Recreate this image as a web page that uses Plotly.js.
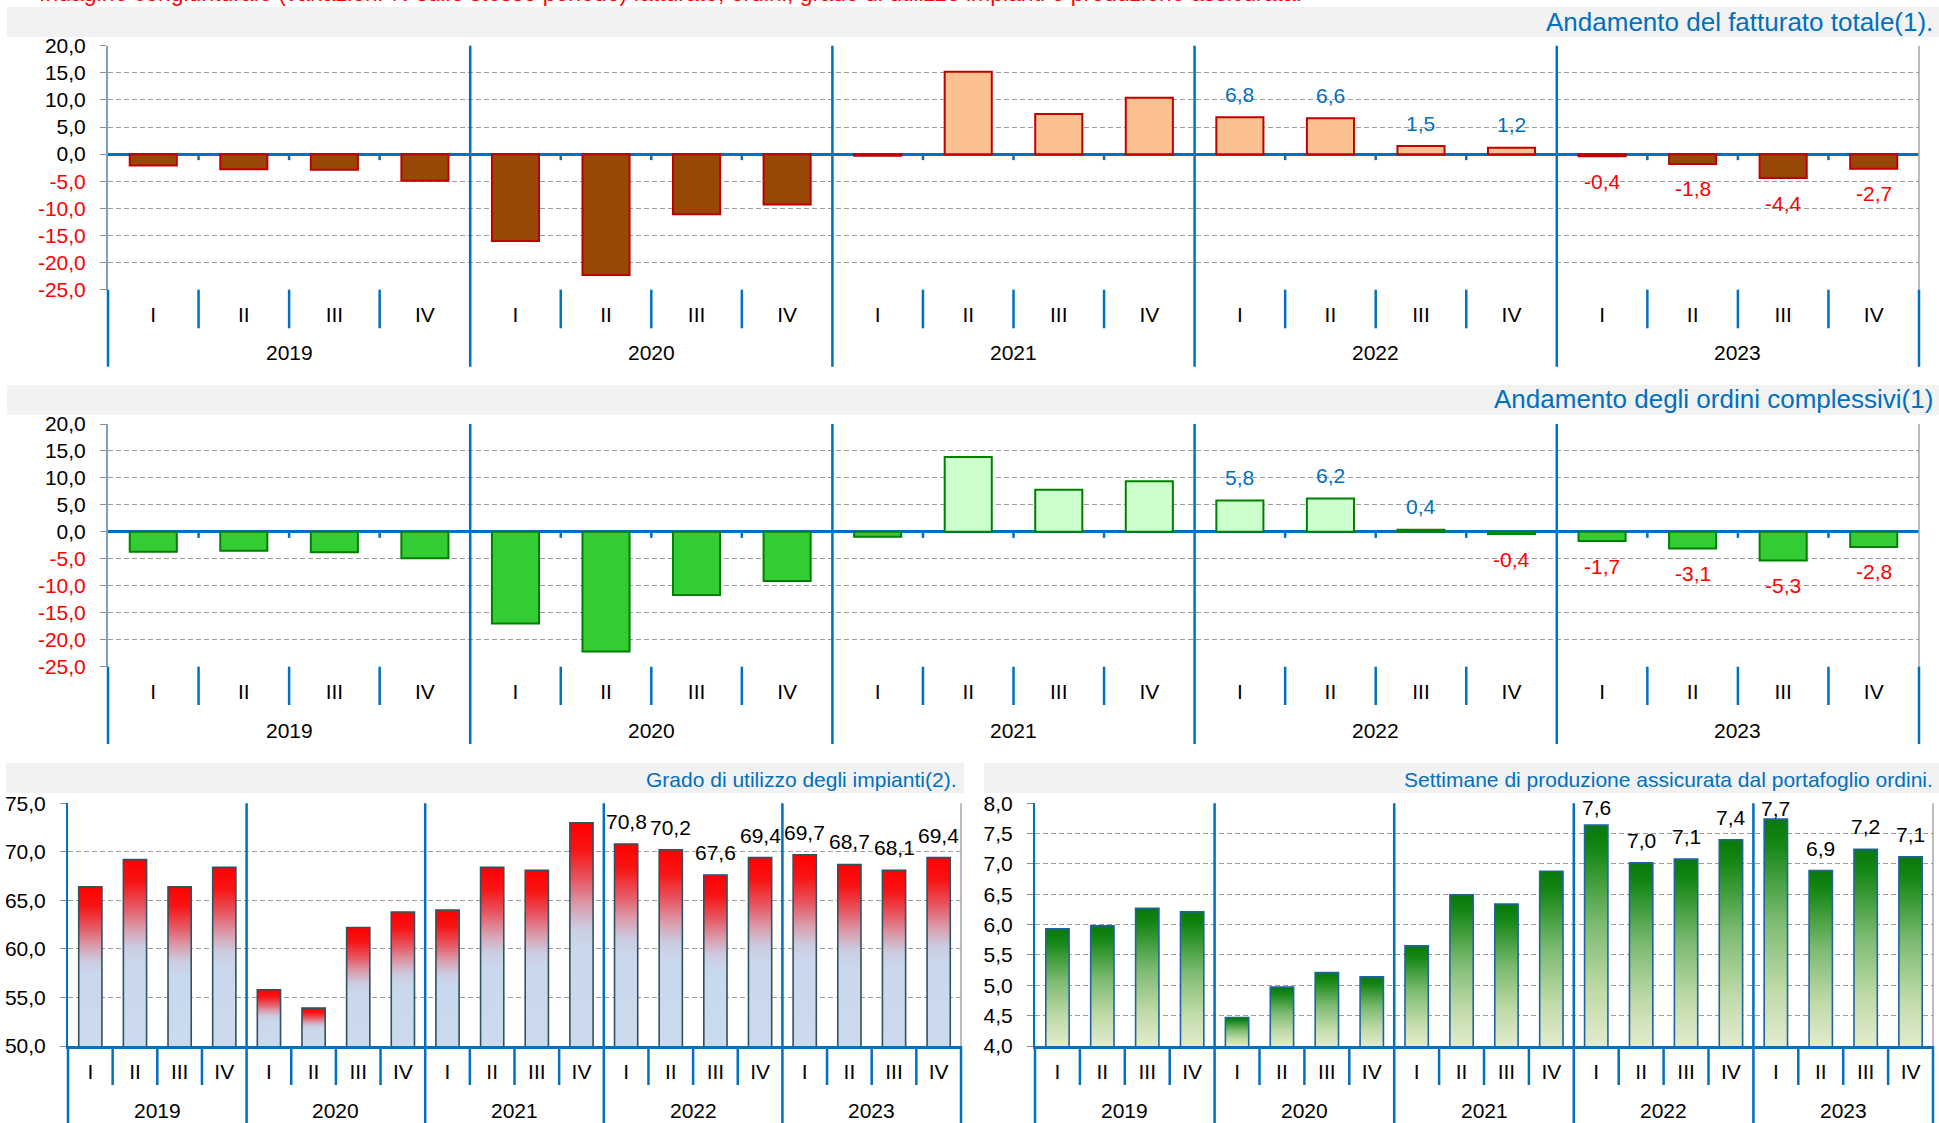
<!DOCTYPE html>
<html><head><meta charset="utf-8">
<script src="https://cdn.plot.ly/plotly-3.0.1.min.js"></script>
<style>html,body{margin:0;padding:0;background:#fff;} #chart{width:1939px;height:1123px;}</style>
</head><body><div id="chart"></div>
<script>
// ---------- DATA ----------
const years = ['2019', '2020', '2021', '2022', '2023'];
const quarters = ['I', 'II', 'III', 'IV'];
const labelYears = ['2022', '2023'];

const fatturato = [-2.1, -2.8, -2.9, -4.9, -16.0, -22.3, -11.1, -9.3, -0.3, 15.2, 7.4, 10.4, 6.8, 6.6, 1.5, 1.2, -0.4, -1.8, -4.4, -2.7];
const ordini = [-3.7, -3.5, -3.8, -4.9, -17.0, -22.2, -11.7, -9.1, -0.9, 13.9, 7.8, 9.4, 5.8, 6.2, 0.4, -0.4, -1.7, -3.1, -5.3, -2.8];
const utilizzo = [66.4, 69.2, 66.4, 68.4, 55.8, 53.9, 62.2, 63.8, 64.0, 68.4, 68.1, 73.0, 70.8, 70.2, 67.6, 69.4, 69.7, 68.7, 68.1, 69.4];
const settimane = [5.93, 5.98, 6.27, 6.21, 4.47, 4.97, 5.21, 5.14, 5.65, 6.49, 6.34, 6.88, 7.64, 7.02, 7.08, 7.40, 7.74, 6.89, 7.24, 7.12];

const ticksVar = [20, 15, 10, 5, 0, -5, -10, -15, -20, -25];
const ticksUtil = [75, 70, 65, 60, 55, 50];
const ticksSett = [8.0, 7.5, 7.0, 6.5, 6.0, 5.5, 5.0, 4.5, 4.0];

const titleTop = 'Indagine congiunturale (variazioni % sullo stesso periodo) fatturato, ordini, grado di utilizzo impianti e produzione assicurata.';
const title1 = 'Andamento del fatturato totale(1).';
const title2 = 'Andamento degli ordini complessivi(1)';
const title3 = 'Grado di utilizzo degli impianti(2).';
const title4 = 'Settimane di produzione assicurata dal portafoglio ordini.';

// ---------- HELPERS ----------
const W = 1939, H = 1123;
const px = v => v / W;
const py = v => 1 - v / H;
const fmt = v => v.toFixed(1).replace('.', ',');
const cats = years.flatMap(y => quarters.map(q => y + ' ' + q));
const catQ = years.flatMap(() => quarters.slice());
const catYear = years.flatMap(y => quarters.map(() => y));
const BLUE = '#0070C0';
const FONT = 'Liberation Sans, Arial, sans-serif';

const panels = [
  { s: '', vals: fatturato, ticks: ticksVar, range: [-25, 20], kind: 'var',
    posFill: '#FAC090', negFill: '#974806', line: '#C00000', lw: 2,
    xd: [108, 1919], yd: [45.7, 289.7], band: [7, 1939, 7, 37],
    title: title1, titleX: 1935, titleY: 22, titleSize: 26, qStand: 10,
    yearY: 353, qDivBottom: 328.3, yearDivBottom: 366.7 },
  { s: '2', vals: ordini, ticks: ticksVar, range: [-25, 20], kind: 'var',
    posFill: '#CCFFCC', negFill: '#33CC33', line: '#008000', lw: 2,
    xd: [108, 1919], yd: [424, 666.7], band: [7, 1939, 385, 415],
    title: title2, titleX: 1935, titleY: 399, titleSize: 26, qStand: 10,
    yearY: 730.7, qDivBottom: 705, yearDivBottom: 744 },
  { s: '3', vals: utilizzo, ticks: ticksUtil, range: [50, 75], kind: 'lvl',
    fill: '#C9D9EC', line: '#2F5264', lw: 1.6,
    xd: [68, 961], yd: [803.3, 1046], band: [6, 964, 763, 793],
    title: title3, titleX: 958, titleY: 779, titleSize: 21, qStand: 5,
    yearY: 1110, qDivBottom: 1085, yearDivBottom: 1123 },
  { s: '4', vals: settimane, ticks: ticksSett, range: [4, 8], kind: 'lvl',
    fill: '#7CBB72', line: '#1F64A0', lw: 1.6,
    xd: [1035, 1933], yd: [803.3, 1046], band: [984, 1939, 763, 793],
    title: title4, titleX: 1935, titleY: 779, titleSize: 21, qStand: 5,
    yearY: 1110, qDivBottom: 1085, yearDivBottom: 1123 }
];

const gradients = {
  2: [[0, '#FF0000'], [0.12, '#F71414'], [0.26, '#E65A66'], [0.37, '#DA9CAC'], [0.47, '#CCCCE0'], [0.56, '#C9D8EC'], [1, '#CBDAEC']],
  3: [[0, '#0A780A'], [0.1, '#128512'], [0.45, '#7DBB72'], [0.75, '#BFDAA7'], [1, '#E3EBCF']]
};

const data = [];
const layout = {
  width: W, height: H, margin: { l: 0, r: 0, t: 0, b: 0 },
  paper_bgcolor: '#FFFFFF', plot_bgcolor: '#FFFFFF',
  showlegend: false, hovermode: false, bargap: 0.48,
  font: { family: FONT, size: 21, color: '#000000' },
  shapes: [], annotations: []
};

// top (cropped in the original) red heading
layout.annotations.push({
  xref: 'paper', yref: 'paper', x: px(37), y: py(-7), xanchor: 'left', yanchor: 'middle',
  text: titleTop, showarrow: false, font: { size: 23, color: '#FF0000', family: FONT }
});

panels.forEach((p, idx) => {
  const xa = 'x' + p.s, ya = 'y' + p.s;
  const n = cats.length;
  const [r0, r1] = p.range;
  const plotTop = p.yd[0], plotBot = p.yd[1], plotH = plotBot - plotTop;
  const ppu = plotH / (r1 - r0);

  // bars
  const trace = {
    type: 'bar', x: cats, y: p.vals, xaxis: xa, yaxis: ya,
    marker: { line: { color: p.line, width: p.lw } }
  };
  if (p.kind === 'var') trace.marker.color = p.vals.map(v => v >= 0 ? p.posFill : p.negFill);
  else trace.marker.color = p.fill;
  data.push(trace);

  // axes
  layout['xaxis' + p.s] = {
    domain: [px(p.xd[0]), px(p.xd[1])], anchor: ya, type: 'category',
    range: [-0.5, n - 0.5], tickmode: 'array', tickvals: cats, ticktext: catQ,
    tickfont: { size: 21, color: '#000000', family: FONT },
    ticks: '', showgrid: false, zeroline: false,
    showline: p.kind === 'lvl', linecolor: BLUE, linewidth: 3,
    ticklabelstandoff: p.qStand, fixedrange: true
  };
  layout['yaxis' + p.s] = {
    domain: [py(p.yd[1]), py(p.yd[0])], anchor: xa, range: p.range,
    tickmode: 'array', tickvals: p.ticks,
    ticktext: p.ticks.map(v => v < 0 ? '<span style="color:#FF0000">' + fmt(v) + '</span>' : fmt(v)),
    tickfont: { size: 21, color: '#000000', family: FONT },
    ticks: 'outside', ticklen: 6, tickcolor: '#8C8C8C', tickwidth: 1,
    ticklabelstandoff: 10,
    showline: true, linecolor: p.kind === 'var' ? '#7C9CC4' : BLUE, linewidth: 2,
    showgrid: true, gridcolor: '#9C9C9C', gridwidth: 1, griddash: '5px,3px',
    zeroline: p.kind === 'var', zerolinecolor: BLUE, zerolinewidth: 3,
    fixedrange: true
  };

  // header band + title
  layout.shapes.push({
    type: 'rect', xref: 'paper', yref: 'paper', layer: 'below',
    x0: px(p.band[0]), x1: px(p.band[1]), y0: py(p.band[3]), y1: py(p.band[2]),
    fillcolor: '#F2F2F2', line: { width: 0 }
  });
  layout.annotations.push({
    xref: 'paper', yref: 'paper', x: px(p.titleX), y: py(p.titleY), xanchor: 'right', yanchor: 'middle',
    text: p.title, showarrow: false, font: { size: p.titleSize, color: BLUE, family: FONT }
  });

  // dividers
  const xdRef = xa + ' domain';
  const zeroPx = plotTop + (r1 - 0) * ppu;
  for (let j = 0; j <= n; j++) {
    const f = j / n;
    const line = (y0, y1, color, w) => layout.shapes.push({
      type: 'line', xref: xdRef, yref: 'paper', layer: 'above',
      x0: f, x1: f, y0: py(y0), y1: py(y1), line: { color: color, width: w }
    });
    if (j % quarters.length === 0) {
      if (j === 0) {
        line(plotBot, p.yearDivBottom, BLUE, 2.5);
      } else if (j === n) {
        line(plotTop, plotBot, '#A6A6A6', 1.5);
        line(plotBot, p.yearDivBottom, BLUE, 2.5);
      } else {
        line(plotTop, p.yearDivBottom, BLUE, 2.5);
      }
    } else {
      line(plotBot, p.qDivBottom, BLUE, 2.5);
      if (p.kind === 'var') line(zeroPx, zeroPx + 6, BLUE, 2.5);
    }
  }

  // year labels
  years.forEach((y, k) => {
    layout.annotations.push({
      xref: xdRef, yref: 'paper', x: (k * quarters.length + quarters.length / 2) / n, y: py(p.yearY),
      xanchor: 'center', yanchor: 'middle', text: y, showarrow: false,
      font: { size: 21, color: '#000000', family: FONT }
    });
  });

  // data labels
  p.vals.forEach((v, i) => {
    if (!labelYears.includes(catYear[i])) return;
    let shift, color;
    if (p.kind === 'var') {
      shift = v >= 0 ? 23 : -25;
      color = v >= 0 ? BLUE : '#FF0000';
    } else {
      const barTopPx = plotTop + (r1 - v) * ppu;
      shift = Math.min(22.5, barTopPx - (plotTop + 4.7));
      color = '#000000';
    }
    layout.annotations.push({
      xref: xa, yref: ya, x: cats[i], y: v, yshift: shift,
      xanchor: 'center', yanchor: 'middle', text: fmt(v), showarrow: false,
      font: { size: 21, color: color, family: FONT }
    });
  });
});

Plotly.newPlot('chart', data, layout, { staticPlot: true, displayModeBar: false }).then(gd => {
  const NS = 'http://www.w3.org/2000/svg';
  const svg = gd.querySelector('svg.main-svg');
  let defs = svg.querySelector('defs');
  if (!defs) { defs = document.createElementNS(NS, 'defs'); svg.insertBefore(defs, svg.firstChild); }
  let gid = 0;
  gd.querySelectorAll('.barlayer .trace.bars').forEach(tr => {
    const cd = tr.__data__;
    const t = cd && cd[0] && cd[0].trace;
    if (!t || !gradients[t.index]) return;
    const stops = gradients[t.index];
    const yaName = t.yaxis === 'y' ? 'yaxis' : 'yaxis' + t.yaxis.slice(1);
    const bottom = gd._fullLayout[yaName]._length;
    tr.querySelectorAll('.point path').forEach(path => {
      const bb = path.getBBox();
      const id = 'bargrad' + (gid++);
      const lg = document.createElementNS(NS, 'linearGradient');
      lg.setAttribute('id', id);
      lg.setAttribute('gradientUnits', 'userSpaceOnUse');
      lg.setAttribute('x1', 0); lg.setAttribute('x2', 0);
      lg.setAttribute('y1', bb.y); lg.setAttribute('y2', bottom);
      stops.forEach(([o, c]) => {
        const s = document.createElementNS(NS, 'stop');
        s.setAttribute('offset', o); s.setAttribute('stop-color', c);
        lg.appendChild(s);
      });
      defs.appendChild(lg);
      path.style.fill = 'url(#' + id + ')';
    });
  });
});
</script>
</body></html>
